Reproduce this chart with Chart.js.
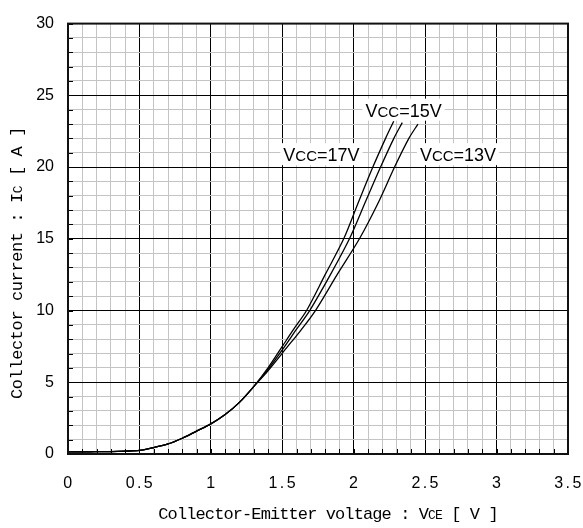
<!DOCTYPE html>
<html>
<head>
<meta charset="utf-8">
<script src="https://cdn.jsdelivr.net/npm/chart.js@4.4.0/dist/chart.umd.min.js"></script>
<style>
body{margin:0;background:#fff}
</style>
</head>
<body>
<canvas id="icChart" width="583" height="528"></canvas>
<script>
// values: Vce [V] and Ic [A]
var vce17 = [0, 0.1, 0.2, 0.3, 0.4, 0.5, 0.6, 0.7, 0.8, 0.9, 1.0, 1.1, 1.2, 1.3, 1.4, 1.5, 1.58, 1.67, 1.8, 1.93, 2.035, 2.134, 2.223, 2.28];
var ic17  = [0.15, 0.15, 0.16, 0.17, 0.2, 0.25, 0.45, 0.7, 1.1, 1.6, 2.1, 2.75, 3.6, 4.7, 6.0, 7.5, 8.7, 10, 12.5, 15, 17.6, 20, 22, 23.2];

var vce15 = [0, 0.1, 0.2, 0.3, 0.4, 0.5, 0.6, 0.7, 0.8, 0.9, 1.0, 1.1, 1.2, 1.3, 1.4, 1.51, 1.6, 1.692, 1.837, 1.97, 2.083, 2.188, 2.281, 2.34];
var ic15  = [0.15, 0.15, 0.16, 0.17, 0.2, 0.25, 0.45, 0.7, 1.1, 1.6, 2.1, 2.75, 3.6, 4.7, 5.9, 7.4, 8.7, 10, 12.5, 15, 17.6, 20, 22, 23.1];

var vce13 = [0, 0.1, 0.2, 0.3, 0.4, 0.5, 0.6, 0.7, 0.8, 0.9, 1.0, 1.1, 1.2, 1.3, 1.4, 1.53, 1.62, 1.732, 1.884, 2.04, 2.176, 2.286, 2.386, 2.45];
var ic13  = [0.15, 0.15, 0.16, 0.17, 0.2, 0.25, 0.45, 0.7, 1.1, 1.6, 2.1, 2.75, 3.6, 4.7, 5.8, 7.4, 8.5, 10, 12.5, 15, 17.6, 20, 22, 23.0];

var seriesNames = ["VCC=17V", "VCC=15V", "VCC=13V"];
var xTickLabels = [0, 0.5, 1, 1.5, 2, 2.5, 3, 3.5];
var yTickLabels = [0, 5, 10, 15, 20, 25, 30];

// where the curve names sit (in axis units)
var nameSpots = [{x: 1.774, y: 20.9}, {x: 2.349, y: 24.0}, {x: 2.73, y: 20.9}];

var SANS = '"Liberation Sans", Arial, sans-serif';
var MONO = '"Liberation Mono", "DejaVu Sans Mono", monospace';

function toPoints(xs, ys) {
  var pts = [];
  for (var i = 0; i < xs.length; i++) pts.push({x: xs[i], y: ys[i]});
  return pts;
}

function isMajor(v, step) {
  return Math.abs(v / step - Math.round(v / step)) < 1e-6;
}

function drawRuns(ctx, runs, cx, baseY, spacing) {
  var total = 0;
  ctx.letterSpacing = spacing + 'px';
  runs.forEach(function (r) {
    ctx.font = r.font;
    r.w = ctx.measureText(r.text).width;
    total += r.w;
  });
  var x = cx - total / 2;
  ctx.textAlign = 'left';
  ctx.textBaseline = 'alphabetic';
  runs.forEach(function (r) {
    ctx.font = r.font;
    ctx.fillText(r.text, x, baseY);
    x += r.w;
  });
  ctx.letterSpacing = '0px';
  return total;
}

var extras = {
  id: 'extras',
  afterDraw: function (chart) {
    var ctx = chart.ctx;
    var a = chart.chartArea;
    var xs = chart.scales.x, ys = chart.scales.y;
    ctx.save();

    // small inner ticks along left and bottom axis
    ctx.strokeStyle = '#000';
    ctx.lineWidth = 1;
    ctx.beginPath();
    xs.ticks.forEach(function (t) {
      var px = Math.round(xs.getPixelForValue(t.value)) + 0.5;
      ctx.moveTo(px, a.bottom);
      ctx.lineTo(px, a.bottom - 5);
    });
    ys.ticks.forEach(function (t) {
      var py = Math.round(ys.getPixelForValue(t.value)) + 0.5;
      ctx.moveTo(a.left, py);
      ctx.lineTo(a.left + 5, py);
    });
    ctx.stroke();

    // frame
    ctx.lineWidth = 2;
    ctx.strokeStyle = '#111';
    ctx.strokeRect(a.left, a.top, a.right - a.left, a.bottom - a.top);

    ctx.fillStyle = '#000';
    // x tick labels
    xTickLabels.forEach(function (v) {
      drawRuns(ctx, [{text: String(v), font: '16px ' + SANS}], xs.getPixelForValue(v) + 1, a.bottom + 34, 2.4);
    });

    // x title
    drawRuns(ctx, [
      {text: 'Collector-Emitter voltage : V', font: '17px ' + MONO},
      {text: 'CE', font: '13px ' + MONO},
      {text: ' [ V ]', font: '17px ' + MONO}
    ], 328, 519, -0.9);

    // y title
    ctx.save();
    ctx.translate(22, 263);
    ctx.rotate(-Math.PI / 2);
    drawRuns(ctx, [
      {text: 'Collector current : I', font: '17px ' + MONO},
      {text: 'C', font: '13px ' + MONO},
      {text: ' [ A ]', font: '17px ' + MONO}
    ], 0, 0, -0.4);
    ctx.restore();

    // curve names on white boxes
    seriesNames.forEach(function (name, i) {
      var runs = [
        {text: name.charAt(0), font: '18px ' + SANS},
        {text: name.substr(1, 2), font: '15px ' + SANS},
        {text: name.substr(3), font: '18px ' + SANS}
      ];
      var cx = xs.getPixelForValue(nameSpots[i].x);
      var cy = ys.getPixelForValue(nameSpots[i].y);
      var w = 0;
      runs.forEach(function (r) { ctx.font = r.font; w += ctx.measureText(r.text).width; });
      ctx.fillStyle = '#fff';
      ctx.fillRect(cx - w / 2 - 3, cy - 11, w + 6, 22);
      ctx.fillStyle = '#000';
      drawRuns(ctx, runs, cx, cy + 7, 0);
    });

    ctx.restore();
  }
};

var ctxC = document.getElementById('icChart').getContext('2d');
var icChart = new Chart(ctxC, {
  type: 'scatter',
  data: {
    datasets: [
      {label: seriesNames[0], data: toPoints(vce17, ic17)},
      {label: seriesNames[1], data: toPoints(vce15, ic15)},
      {label: seriesNames[2], data: toPoints(vce13, ic13)}
    ].map(function (d) {
      d.showLine = true;
      d.borderColor = '#000';
      d.backgroundColor = '#000';
      d.borderWidth = 1.3;
      d.pointRadius = 0;
      d.tension = 0.3;
      return d;
    })
  },
  options: {
    responsive: false,
    animation: false,
    layout: {padding: {top: 10, right: 15, left: 0, bottom: 0}},
    plugins: {legend: {display: false}, tooltip: {enabled: false}},
    scales: {
      x: {
        type: 'linear',
        min: 0,
        max: 3.5,
        afterFit: function (s) { s.height = 74; },
        ticks: {stepSize: 0.1, autoSkip: false, display: false},
        grid: {
          drawTicks: false,
          color: function (c) { return isMajor(c.tick.value, 0.5) ? '#000' : '#c4c4c4'; },
          lineWidth: 1
        },
        border: {display: true, color: '#000', width: 2}
      },
      y: {
        type: 'linear',
        min: 0,
        max: 30,
        afterFit: function (s) { s.width = 68; },
        ticks: {
          stepSize: 1,
          autoSkip: false,
          padding: 14,
          color: '#000',
          font: {family: SANS, size: 16},
          callback: function (v) { return yTickLabels.indexOf(v) >= 0 ? String(v) : ''; }
        },
        grid: {
          drawTicks: false,
          color: function (c) { return isMajor(c.tick.value, 5) ? '#000' : '#c4c4c4'; },
          lineWidth: 1
        },
        border: {display: true, color: '#000', width: 2}
      }
    }
  },
  plugins: [extras]
});
</script>
</body>
</html>
